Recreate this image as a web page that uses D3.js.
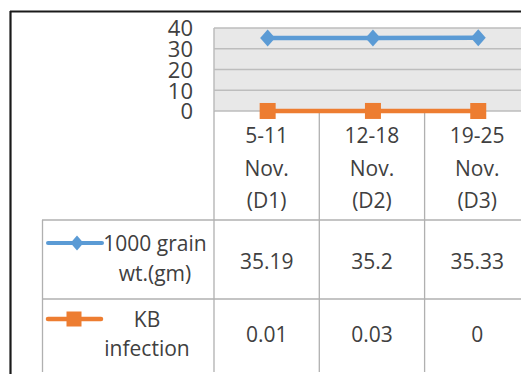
<!DOCTYPE html>
<html>
<head>
<meta charset="utf-8">
<script src="https://cdn.jsdelivr.net/npm/d3@7"></script>
<style>
  html, body { margin: 0; padding: 0; background: #fff; }
  svg { display: block; }
  text { font-family: "Open Sans", sans-serif; fill: #404040; }
</style>
</head>
<body>
<svg id="chart" width="521" height="374"></svg>
<script>
// ---- data ----
const categories = ["5-11 Nov. (D1)", "12-18 Nov. (D2)", "19-25 Nov. (D3)"];
const categoryLines = [["5-11", "Nov.", "(D1)"], ["12-18", "Nov.", "(D2)"], ["19-25", "Nov.", "(D3)"]];
const grainWeight = [35.19, 35.2, 35.33];
const kbInfection = [0.01, 0.03, 0];
const grainLabels = ["35.19", "35.2", "35.33"];
const kbLabels = ["0.01", "0.03", "0"];
const seriesNames = ["1000 grain wt.(gm)", "KB infection"];
const yTicks = [0, 10, 20, 30, 40];

const blue = "#5b9bd5", orange = "#ed7d31", grid = "#bdbdbd", tableLine = "#b0b0b0";

const svg = d3.select("#chart");

// scales
const x = d3.scaleBand().domain(categories).range([214, 214 + 3 * 105.3]).padding(0);
const y = d3.scaleLinear().domain([0, 40]).range([111, 28]);

// outer chart border (top & left visible)
svg.append("line").attr("x1", 10).attr("x2", 521).attr("y1", 11.5).attr("y2", 11.5)
  .attr("stroke", "#1a1a1a").attr("stroke-width", 2.2);
svg.append("line").attr("x1", 10.5).attr("x2", 10.5).attr("y1", 11).attr("y2", 374)
  .attr("stroke", "#1a1a1a").attr("stroke-width", 2.2);

// plot area
svg.append("rect").attr("x", 214).attr("y", y(40)).attr("width", 521 - 214).attr("height", y(0) - y(40))
  .attr("fill", "#e8e8e8");

// gridlines
svg.append("g").selectAll("line").data(yTicks).join("line")
  .attr("x1", 214).attr("x2", 521)
  .attr("y1", d => y(d)).attr("y2", d => y(d))
  .attr("stroke", grid).attr("stroke-width", 1.5);
svg.append("line").attr("x1", 214).attr("x2", 214).attr("y1", y(40)).attr("y2", y(0))
  .attr("stroke", grid).attr("stroke-width", 1.5);

// y axis labels
const yAxis = d3.axisLeft(y).tickValues(yTicks).tickSize(0).tickPadding(0);
const yg = svg.append("g").attr("transform", "translate(193,0)").call(yAxis);
yg.select(".domain").remove();
yg.selectAll("text").attr("font-size", 22).attr("fill", "#404040")
  .attr("font-family", "Open Sans, sans-serif").attr("dy", "0.36em");

// table lines
const colEdges = categories.map(c => x(c)).concat([x(categories[2]) + x.bandwidth()]);
const tbl = svg.append("g").attr("stroke", tableLine).attr("stroke-width", 1.3);
colEdges.forEach((cx, i) => {
  tbl.append("line").attr("x1", cx).attr("x2", cx).attr("y1", y(0)).attr("y2", 372);
});
tbl.append("line").attr("x1", 42).attr("x2", 521).attr("y1", 220).attr("y2", 220);
tbl.append("line").attr("x1", 42).attr("x2", 521).attr("y1", 299).attr("y2", 299);
tbl.append("line").attr("x1", 42.5).attr("x2", 42.5).attr("y1", 220).attr("y2", 372);

// header category labels
const hdr = svg.append("g");
categoryLines.forEach((lines, i) => {
  const cx = x(categories[i]) + x.bandwidth() / 2;
  lines.forEach((t, j) => {
    hdr.append("text").attr("x", cx).attr("y", 143 + j * 32.5)
      .attr("text-anchor", "middle").attr("font-size", 21).text(t);
  });
});

// table values
const vals = svg.append("g");
categories.forEach((c, i) => {
  const cx = x(c) + x.bandwidth() / 2;
  vals.append("text").attr("x", cx).attr("y", 269).attr("text-anchor", "middle").attr("font-size", 21).text(grainLabels[i]);
  vals.append("text").attr("x", cx).attr("y", 342).attr("text-anchor", "middle").attr("font-size", 21).text(kbLabels[i]);
});

// marker helpers
function diamond(g, cx, cy, hw, hh, color) {
  g.append("path").attr("d", `M${cx},${cy - hh}L${cx + hw},${cy}L${cx},${cy + hh}L${cx - hw},${cy}Z`).attr("fill", color);
}
function square(g, cx, cy, s, color) {
  g.append("rect").attr("x", cx - s / 2).attr("y", cy - s / 2).attr("width", s).attr("height", s).attr("fill", color);
}

// legend keys in table
const leg = svg.append("g");
leg.append("line").attr("x1", 48).attr("x2", 102).attr("y1", 243).attr("y2", 243).attr("stroke", blue).attr("stroke-width", 4).attr("stroke-linecap", "round");
diamond(leg, 77, 243, 6.5, 7.5, blue);
leg.append("line").attr("x1", 48).attr("x2", 101).attr("y1", 319).attr("y2", 319).attr("stroke", orange).attr("stroke-width", 4.5).attr("stroke-linecap", "round");
square(leg, 74, 319, 15, orange);

// row labels
leg.append("text").attr("x", 155).attr("y", 251).attr("text-anchor", "middle").attr("font-size", 21).text("1000 grain");
leg.append("text").attr("x", 155).attr("y", 281).attr("text-anchor", "middle").attr("font-size", 21).text("wt.(gm)");
leg.append("text").attr("x", 147).attr("y", 327).attr("text-anchor", "middle").attr("font-size", 21).text("KB");
leg.append("text").attr("x", 147).attr("y", 356).attr("text-anchor", "middle").attr("font-size", 21).text("infection");

// series lines
const cxOf = (d, i) => x(categories[i]) + x.bandwidth() / 2 + 1;
const lineGen = d3.line().x((d, i) => cxOf(d, i)).y(d => y(d));
const plot = svg.append("g");
plot.append("path").datum(grainWeight).attr("d", lineGen).attr("fill", "none").attr("stroke", blue).attr("stroke-width", 4.5).attr("stroke-linejoin", "round");
plot.append("path").datum(kbInfection).attr("d", lineGen).attr("fill", "none").attr("stroke", orange).attr("stroke-width", 4.5).attr("stroke-linejoin", "round");
grainWeight.forEach((d, i) => diamond(plot, cxOf(d, i), y(d), 7.5, 8.5, blue));
kbInfection.forEach((d, i) => square(plot, cxOf(d, i), y(d), 16, orange));
</script>
</body>
</html>
